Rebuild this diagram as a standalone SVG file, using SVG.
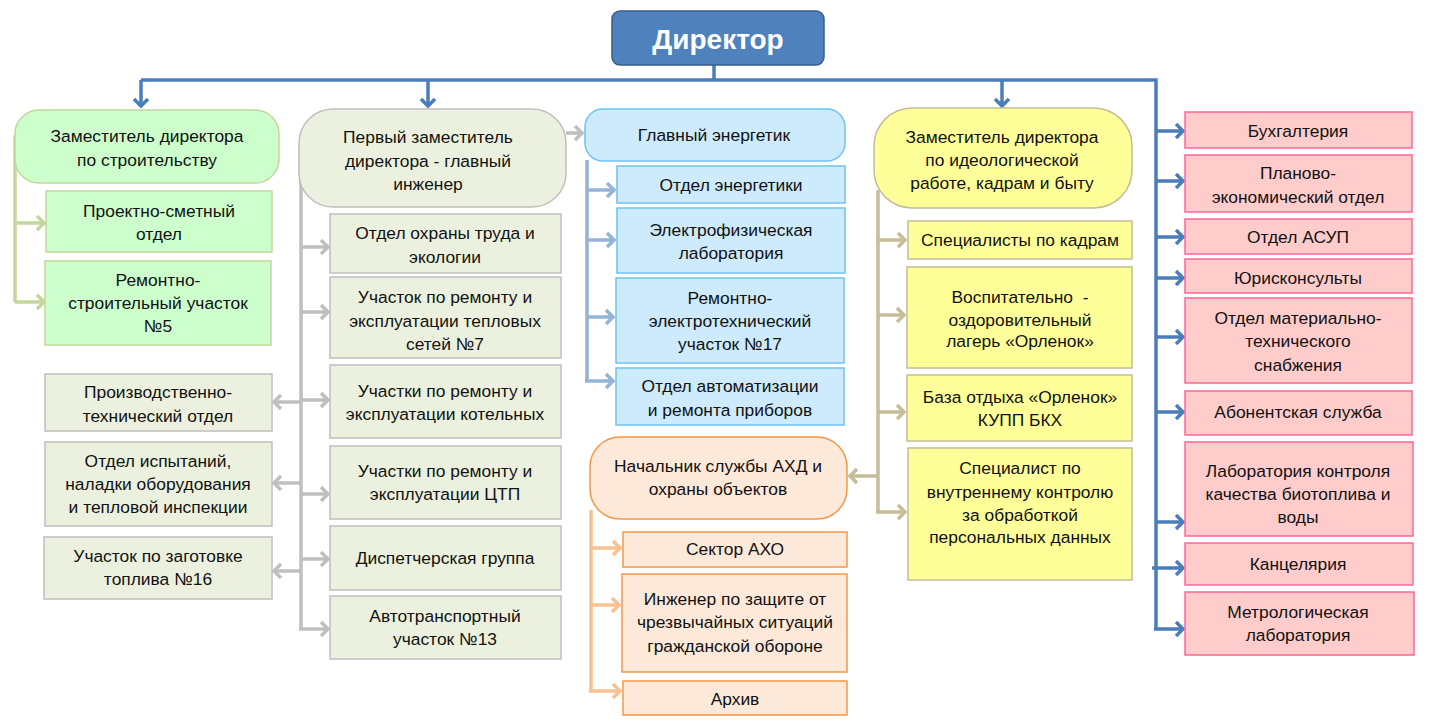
<svg xmlns="http://www.w3.org/2000/svg" width="1430" height="727" viewBox="0 0 1430 727">
<style>
text{font-family:"Liberation Sans",Arial,sans-serif;font-size:17.4px;fill:#111;text-anchor:middle}
.dir{fill:#4f81bd;stroke:#385d8a;stroke-width:1.5}
.dirt{font-size:28px;font-weight:bold;fill:#fff}
.gr{fill:#ccffcc;stroke:#c3d69b;stroke-width:1.5}
.gy{fill:#ebf1de;stroke:#bfbfbf;stroke-width:1.5}
.bl{fill:#cdebfd;stroke:#6cc4f2;stroke-width:1.5}
.ye{fill:#ffff99;stroke:#c4bd97;stroke-width:1.5}
.or{fill:#fde9d9;stroke:#f79646;stroke-width:1.5}
.pk{fill:#ffcccc;stroke:#ff6699;stroke-width:1.5}
.c{fill:none;stroke-width:3.5}
.cb{stroke:#4a7ebb}.cg{stroke:#c3d69b}.cy{stroke:#bfbfbf}.cl{stroke:#95b3d7}.ct{stroke:#c4bd97}.co{stroke:#fac090}
</style>
<defs>
<marker id="mb" markerUnits="userSpaceOnUse" viewBox="-2 -2 14 18" markerWidth="14" markerHeight="18" refX="8" refY="7" orient="auto"><path d="M1,0 L8,7 L1,14" fill="none" stroke="#4a7ebb" stroke-width="3.5"/></marker>
<marker id="mg" markerUnits="userSpaceOnUse" viewBox="-2 -2 14 18" markerWidth="14" markerHeight="18" refX="8" refY="7" orient="auto"><path d="M1,0 L8,7 L1,14" fill="none" stroke="#c3d69b" stroke-width="3.5"/></marker>
<marker id="my" markerUnits="userSpaceOnUse" viewBox="-2 -2 14 18" markerWidth="14" markerHeight="18" refX="8" refY="7" orient="auto"><path d="M1,0 L8,7 L1,14" fill="none" stroke="#bfbfbf" stroke-width="3.5"/></marker>
<marker id="ml" markerUnits="userSpaceOnUse" viewBox="-2 -2 14 18" markerWidth="14" markerHeight="18" refX="8" refY="7" orient="auto"><path d="M1,0 L8,7 L1,14" fill="none" stroke="#95b3d7" stroke-width="3.5"/></marker>
<marker id="mt" markerUnits="userSpaceOnUse" viewBox="-2 -2 14 18" markerWidth="14" markerHeight="18" refX="8" refY="7" orient="auto"><path d="M1,0 L8,7 L1,14" fill="none" stroke="#c4bd97" stroke-width="3.5"/></marker>
<marker id="mo" markerUnits="userSpaceOnUse" viewBox="-2 -2 14 18" markerWidth="14" markerHeight="18" refX="8" refY="7" orient="auto"><path d="M1,0 L8,7 L1,14" fill="none" stroke="#fac090" stroke-width="3.5"/></marker>
</defs>

<g id="connectors">
<path class="c cb" d="M714,65 V80 M141,80 H1156 V629"/>
<path class="c cb" marker-end="url(#mb)" d="M141,80 V106"/>
<path class="c cb" marker-end="url(#mb)" d="M428,80 V106"/>
<path class="c cb" marker-end="url(#mb)" d="M1002,80 V106"/>
<path class="c cb" marker-end="url(#mb)" d="M1156,131 H1183"/>
<path class="c cb" marker-end="url(#mb)" d="M1156,181 H1183"/>
<path class="c cb" marker-end="url(#mb)" d="M1156,237 H1183"/>
<path class="c cb" marker-end="url(#mb)" d="M1156,278 H1183"/>
<path class="c cb" marker-end="url(#mb)" d="M1156,337 H1183"/>
<path class="c cb" marker-end="url(#mb)" d="M1156,412 H1183"/>
<path class="c cb" marker-end="url(#mb)" d="M1156,522 H1183"/>
<path class="c cb" marker-end="url(#mb)" d="M1152,568 H1183"/>
<path class="c cb" marker-end="url(#mb)" d="M1154,629 H1183"/>

<path class="c cg" d="M15,135 V302"/>
<path class="c cg" marker-end="url(#mg)" d="M15,223 H44"/>
<path class="c cg" marker-end="url(#mg)" d="M15,302 H44"/>

<path class="c cy" d="M301,180 V629"/>
<path class="c cy" marker-end="url(#my)" d="M566,133 H582"/>
<path class="c cy" marker-end="url(#my)" d="M301,247 H328"/>
<path class="c cy" marker-end="url(#my)" d="M301,312 H328"/>
<path class="c cy" marker-end="url(#my)" d="M301,400 H328"/>
<path class="c cy" marker-end="url(#my)" d="M301,494 H328"/>
<path class="c cy" marker-end="url(#my)" d="M301,559 H328"/>
<path class="c cy" marker-end="url(#my)" d="M299,629 H328"/>
<path class="c cy" marker-end="url(#my)" d="M301,402 H274"/>
<path class="c cy" marker-end="url(#my)" d="M301,483 H274"/>
<path class="c cy" marker-end="url(#my)" d="M301,571 H274"/>

<path class="c cl" d="M587,160 V381"/>
<path class="c cl" marker-end="url(#ml)" d="M587,190 H614"/>
<path class="c cl" marker-end="url(#ml)" d="M587,240 H614"/>
<path class="c cl" marker-end="url(#ml)" d="M587,317 H613"/>
<path class="c cl" marker-end="url(#ml)" d="M585,381 H613"/>

<path class="c ct" d="M878,190 V512"/>
<path class="c ct" marker-end="url(#mt)" d="M878,240 H905"/>
<path class="c ct" marker-end="url(#mt)" d="M878,315 H904"/>
<path class="c ct" marker-end="url(#mt)" d="M878,412 H904"/>
<path class="c ct" marker-end="url(#mt)" d="M876,512 H905"/>
<path class="c ct" marker-end="url(#mt)" d="M878,476 H850"/>

<path class="c co" d="M591,510 V691"/>
<path class="c co" marker-end="url(#mo)" d="M591,548 H620"/>
<path class="c co" marker-end="url(#mo)" d="M591,605 H619"/>
<path class="c co" marker-end="url(#mo)" d="M589,691 H620"/>
</g>

<g id="director"><rect class="dir" x="612" y="11" width="212" height="54" rx="8"/><text class="dirt" x="718" y="49">Директор</text></g>

<g id="dep-construction"><rect class="gr" x="15" y="110" width="264" height="73" rx="24"/><text x="147" y="142">Заместитель директора</text><text x="147" y="166">по строительству</text></g>
<g id="design-estimate"><rect class="gr" x="46" y="191" width="226" height="61"/><text x="159" y="217">Проектно-сметный</text><text x="159" y="240">отдел</text></g>
<g id="repair-construction"><rect class="gr" x="45" y="261" width="226" height="84"/><text x="158" y="286">Ремонтно-</text><text x="158" y="309">строительный участок</text><text x="158" y="332">№5</text></g>

<g id="first-deputy"><rect class="gy" x="299" y="109" width="267" height="98" rx="34"/><text x="428" y="143">Первый заместитель</text><text x="428" y="167">директора - главный</text><text x="428" y="190">инженер</text></g>
<g id="labor-protection"><rect class="gy" x="330" y="214" width="231" height="59"/><text x="445" y="239">Отдел охраны труда и</text><text x="445" y="263">экологии</text></g>
<g id="heat-networks"><rect class="gy" x="330" y="277" width="231" height="81"/><text x="445" y="303">Участок по ремонту и</text><text x="445" y="327">эксплуатации тепловых</text><text x="445" y="350">сетей №7</text></g>
<g id="boilers"><rect class="gy" x="330" y="365" width="231" height="73"/><text x="445" y="397">Участки по ремонту и</text><text x="445" y="420">эксплуатации котельных</text></g>
<g id="ctp"><rect class="gy" x="330" y="446" width="231" height="73"/><text x="445" y="477">Участки по ремонту и</text><text x="445" y="500">эксплуатации ЦТП</text></g>
<g id="dispatch"><rect class="gy" x="330" y="526" width="231" height="64"/><text x="445" y="564">Диспетчерская группа</text></g>
<g id="transport"><rect class="gy" x="330" y="596" width="231" height="63"/><text x="445" y="622">Автотранспортный</text><text x="445" y="645">участок №13</text></g>
<g id="production-tech"><rect class="gy" x="45" y="374" width="227" height="57"/><text x="158" y="398">Производственно-</text><text x="158" y="422">технический отдел</text></g>
<g id="testing"><rect class="gy" x="45" y="442" width="227" height="84"/><text x="158" y="467">Отдел испытаний,</text><text x="158" y="490">наладки оборудования</text><text x="158" y="513">и тепловой инспекции</text></g>
<g id="fuel"><rect class="gy" x="44" y="537" width="228" height="62"/><text x="158" y="562">Участок по заготовке</text><text x="158" y="585">топлива №16</text></g>

<g id="chief-power"><rect class="bl" x="585" y="109" width="260" height="52" rx="18"/><text x="714" y="141">Главный энергетик</text></g>
<g id="power-dept"><rect class="bl" x="617" y="166" width="228" height="37"/><text x="731" y="191">Отдел энергетики</text></g>
<g id="electrophys"><rect class="bl" x="617" y="208" width="228" height="65"/><text x="731" y="236">Электрофизическая</text><text x="731" y="259">лаборатория</text></g>
<g id="electrotech"><rect class="bl" x="616" y="278" width="228" height="85"/><text x="730" y="304">Ремонтно-</text><text x="730" y="327">электротехнический</text><text x="730" y="350">участок №17</text></g>
<g id="automation"><rect class="bl" x="616" y="368" width="228" height="57"/><text x="730" y="392">Отдел автоматизации</text><text x="730" y="416">и ремонта приборов</text></g>

<g id="ahd-head"><rect class="or" x="590" y="437" width="257" height="82" rx="30"/><text x="718" y="472">Начальник службы АХД и</text><text x="718" y="495">охраны объектов</text></g>
<g id="aho"><rect class="or" x="623" y="532" width="224" height="35"/><text x="735" y="555">Сектор АХО</text></g>
<g id="civil-defense"><rect class="or" x="622" y="574" width="225" height="98"/><text x="735" y="605">Инженер по защите от</text><text x="735" y="628">чрезвычайных ситуаций</text><text x="735" y="652">гражданской обороне</text></g>
<g id="archive"><rect class="or" x="623" y="681" width="224" height="34"/><text x="735" y="705">Архив</text></g>

<g id="dep-ideology"><rect class="ye" x="874" y="108" width="258" height="100" rx="38"/><text x="1002" y="143">Заместитель директора</text><text x="1002" y="166">по идеологической</text><text x="1002" y="189">работе, кадрам и быту</text></g>
<g id="hr"><rect class="ye" x="908" y="221" width="224" height="38"/><text x="1020" y="246">Специалисты по кадрам</text></g>
<g id="camp"><rect class="ye" x="907" y="267" width="225" height="101"/><text x="1020" y="303">Воспитательно&#160; -</text><text x="1020" y="326">оздоровительный</text><text x="1020" y="347">лагерь «Орленок»</text></g>
<g id="rest-base"><rect class="ye" x="907" y="375" width="225" height="66"/><text x="1020" y="403">База отдыха «Орленок»</text><text x="1020" y="426">КУПП БКХ</text></g>
<g id="data-control"><rect class="ye" x="908" y="448" width="224" height="132"/><text x="1020" y="474">Специалист по</text><text x="1020" y="498">внутреннему контролю</text><text x="1020" y="521">за обработкой</text><text x="1020" y="543">персональных данных</text></g>

<g id="accounting"><rect class="pk" x="1185" y="112" width="227" height="36"/><text x="1298" y="137">Бухгалтерия</text></g>
<g id="planning"><rect class="pk" x="1185" y="155" width="227" height="57"/><text x="1298" y="179">Планово-</text><text x="1298" y="203">экономический отдел</text></g>
<g id="asup"><rect class="pk" x="1185" y="219" width="227" height="35"/><text x="1298" y="243">Отдел АСУП</text></g>
<g id="legal"><rect class="pk" x="1185" y="259" width="227" height="34"/><text x="1298" y="284">Юрисконсульты</text></g>
<g id="supply"><rect class="pk" x="1185" y="298" width="227" height="85"/><text x="1298" y="324">Отдел материально-</text><text x="1298" y="347">технического</text><text x="1298" y="371">снабжения</text></g>
<g id="subscriber"><rect class="pk" x="1185" y="391" width="227" height="44"/><text x="1298" y="418">Абонентская служба</text></g>
<g id="lab-quality"><rect class="pk" x="1185" y="442" width="228" height="94"/><text x="1298" y="477">Лаборатория контроля</text><text x="1298" y="500">качества биотоплива и</text><text x="1298" y="523">воды</text></g>
<g id="office"><rect class="pk" x="1185" y="543" width="228" height="42"/><text x="1298" y="570">Канцелярия</text></g>
<g id="metrology"><rect class="pk" x="1185" y="592" width="229" height="63"/><text x="1298" y="618">Метрологическая</text><text x="1298" y="641">лаборатория</text></g>
</svg>
